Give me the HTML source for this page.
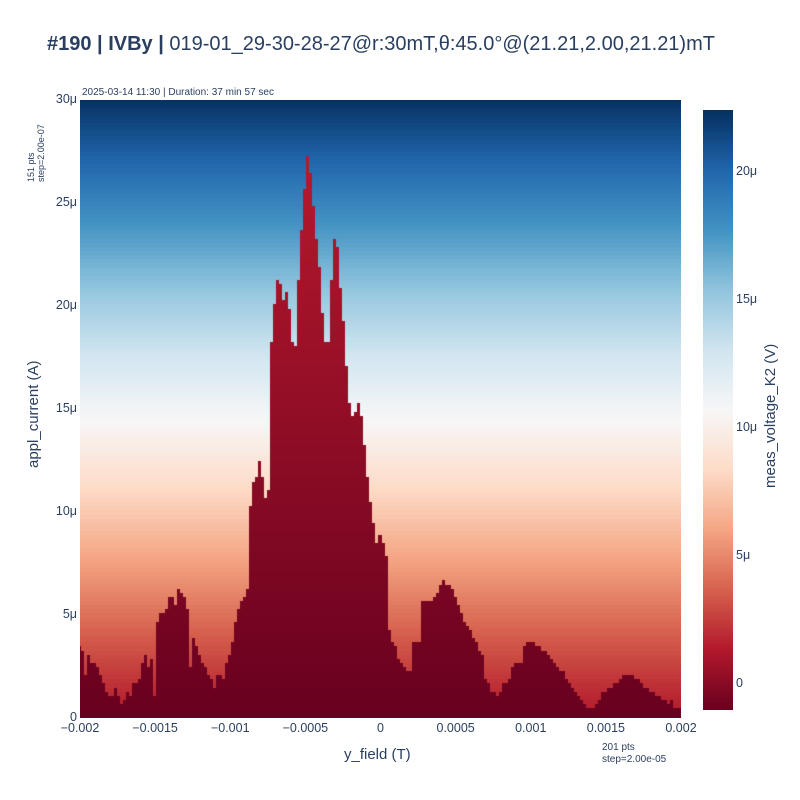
<!DOCTYPE html>
<html><head><meta charset="utf-8">
<style>
body{margin:0;background:#fff;width:800px;height:800px;overflow:hidden;font-family:"Liberation Sans",sans-serif;color:#2a3f5f}
#root{position:relative;width:800px;height:800px}
.t{position:absolute;white-space:nowrap}
canvas{position:absolute}
</style></head><body>
<div id="root">
<div class="t" style="left:0;width:762px;text-align:center;top:33px;font-size:20px"><b>#190 | IVBy |</b> 019-01_29-30-28-27@r:30mT,θ:45.0°@(21.21,2.00,21.21)mT</div>
<div class="t" style="left:82px;top:87px;font-size:10px">2025-03-14 11:30 | Duration: 37 min 57 sec</div>
<div class="t" style="left:26px;top:182px;font-size:9px;line-height:10px;transform:rotate(-90deg);transform-origin:0 0;">151 pts<br>step=2.00e-07</div>
<div class="t" style="left:602px;top:742px;font-size:10px;line-height:12px">201 pts<br>step=2.00e-05</div>
<canvas id="hm" width="601" height="618" style="left:80px;top:100px"></canvas>
<canvas id="cb" width="30" height="600" style="left:703px;top:110px"></canvas>
<div id="ax"></div>
<div class="t" style="left:344px;top:746px;font-size:15px">y_field (T)</div>
<div class="t" style="left:25px;top:468px;font-size:15px;transform:rotate(-90deg);transform-origin:0 0">appl_current (A)</div>
<div class="t" style="left:762px;top:488px;font-size:15px;transform:rotate(-90deg);transform-origin:0 0">meas_voltage_K2 (V)</div>
</div>
<script>
// critical current per column (μA)
const ic = [3.5,3.3,2.1,3.1,2.7,2.7,2.5,2.1,1.7,1.3,1.1,1.1,1.5,1.1,0.7,0.9,1.3,1.1,1.7,1.7,
1.9,2.7,3.1,2.5,3.0,1.1,4.7,5.1,5.1,5.3,5.9,5.9,5.5,6.3,6.1,5.9,5.3,2.5,3.9,3.5,
3.1,2.7,2.5,2.1,1.9,1.5,2.1,2.1,1.9,2.7,3.1,3.7,4.7,5.3,5.7,5.9,6.3,10.3,11.5,11.7,
12.5,11.7,10.7,11.1,18.3,20.2,21.4,21.2,20.4,20.8,20.0,18.3,18.1,21.4,23.8,25.8,27.4,26.6,25.0,23.4,
22.0,19.8,18.4,18.4,21.4,23.4,23.0,21.0,19.4,17.2,15.4,14.7,15.0,15.4,14.7,13.4,11.8,10.5,9.5,8.5,
8.9,8.5,7.9,4.3,3.7,3.5,2.9,2.7,2.5,2.3,2.3,3.7,3.7,3.7,5.7,5.7,5.7,5.7,5.9,6.1,
6.5,6.7,6.5,6.5,6.3,5.9,5.5,5.1,4.7,4.5,4.3,3.9,3.7,3.3,3.1,1.9,1.7,1.3,1.3,1.1,
1.3,1.7,1.7,1.9,2.5,2.7,2.7,2.7,3.5,3.7,3.7,3.7,3.5,3.5,3.3,3.3,3.1,2.9,2.7,2.5,
2.3,2.3,1.9,1.7,1.5,1.3,1.1,0.9,0.7,0.5,0.5,0.5,0.7,0.9,1.3,1.3,1.5,1.5,1.7,1.7,
1.9,2.1,2.1,2.1,2.1,1.9,1.9,1.7,1.5,1.5,1.3,1.3,1.1,1.1,0.9,0.9,0.7,0.9,0.5,0.5,0.5];
const xTicks=[-0.002,-0.0015,-0.001,-0.0005,0,0.0005,0.001,0.0015,0.002];
const xTickLabels=["−0.002","−0.0015","−0.001","−0.0005","0","0.0005","0.001","0.0015","0.002"];
const yTicks=[0,5,10,15,20,25,30];
const yTickLabels=["0","5μ","10μ","15μ","20μ","25μ","30μ"];
const cbTicks=[0,5,10,15,20];
const cbTickLabels=["0","5μ","10μ","15μ","20μ"];
const zmin=-1, zmax=22.4;
const nx=201, ny=151, dxField=2e-5, dI=0.2;
const X=f=>80+(f+0.002)/0.004*601;
const Y=i=>718-i/30*618;
const CB=z=>710-(z-zmin)/(zmax-zmin)*600;
const stops=[[103,0,31],[178,24,43],[214,96,77],[244,165,130],[253,219,199],[247,247,247],[209,229,240],[146,197,222],[67,147,195],[33,102,172],[5,48,97]];
function col(t){t=Math.max(0,Math.min(1,t));const p=t*10,i=Math.min(9,Math.floor(p)),f=p-i,a=stops[i],b=stops[i+1];
return `rgb(${Math.round(a[0]+(b[0]-a[0])*f)},${Math.round(a[1]+(b[1]-a[1])*f)},${Math.round(a[2]+(b[2]-a[2])*f)})`;}
function zval(c,I){ if(I<ic[c]) return -1+0.09*I; return 1.3+21*Math.pow(I/30,1.1); }
const ctx=document.getElementById('hm').getContext('2d');
for(let c=0;c<nx;c++){const f=-0.002+c*dxField;
 const x0=X(f-dxField/2)-80,x1=X(f+dxField/2)-80;
 for(let r=0;r<ny;r++){const I=r*dI;const y0=Y(I+dI/2)-100,y1=Y(I-dI/2)-100;
  ctx.fillStyle=col((zval(c,I)-zmin)/(zmax-zmin));
  ctx.fillRect(Math.floor(x0),Math.floor(y0),Math.ceil(x1)-Math.floor(x0),Math.ceil(y1)-Math.floor(y0));}}
const cctx=document.getElementById('cb').getContext('2d');
for(let p=0;p<600;p++){cctx.fillStyle=col(1-p/600);cctx.fillRect(0,p,30,1);}
const ax=document.getElementById('ax');
function lab(txt,style,name){const d=document.createElement('div');d.className='t';d.textContent=txt;d.style.cssText=style+';font-size:12.5px';


ax.appendChild(d);}
xTicks.forEach((v,i)=>lab(xTickLabels[i],`left:${X(v)-40}px;width:80px;text-align:center;top:721px`,'x-tick-label'));
yTicks.forEach((v,i)=>lab(yTickLabels[i],`left:26px;width:51px;text-align:right;top:${Y(v)-8}px`,'y-tick-label'));
cbTicks.forEach((v,i)=>lab(cbTickLabels[i],`left:736px;top:${CB(v)-8}px`,'colorbar-tick-label'));
</script>
</body></html>
